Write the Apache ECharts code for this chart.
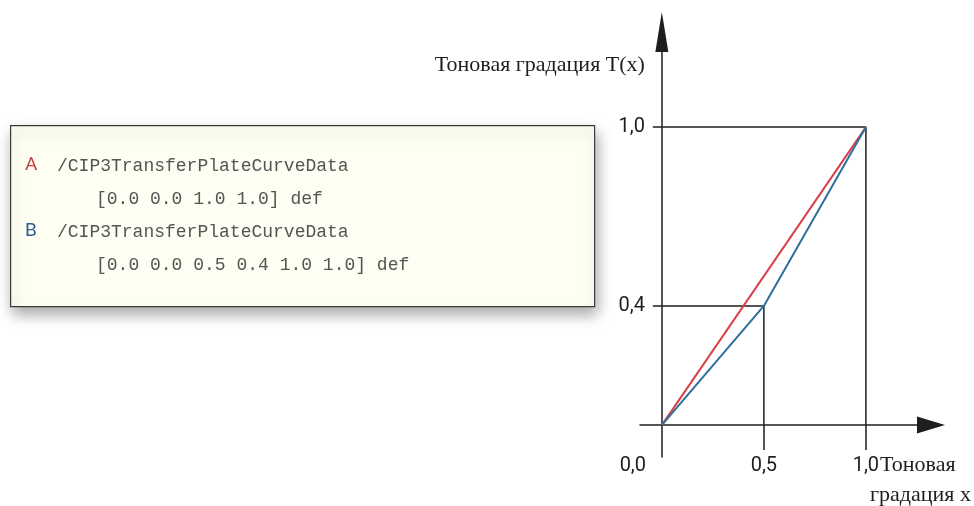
<!DOCTYPE html>
<html>
<head>
<meta charset="utf-8">
<script src="https://cdn.jsdelivr.net/npm/echarts@6/dist/echarts.min.js"></script>
<style>
  html, body { margin: 0; padding: 0; background: #fff; }
  #chart { width: 974px; height: 506px; }
</style>
</head>
<body>
<div id="chart"></div>
<script>
// tone curves (x -> T(x))
const curveA = [[0.0, 0.0], [1.0, 1.0]];
const curveB = [[0.0, 0.0], [0.5, 0.4], [1.0, 1.0]];
// guide corners drawn back to the axes
const guidePoints = [[1.0, 1.0], [0.5, 0.4]];
const xTicks = [0.0, 0.5, 1.0];
const yTicks = [0.4, 1.0];
// PostScript snippet in the box
const codeTags = ["A", "B"];
const codeLines = [
  "/CIP3TransferPlateCurveData",
  "[0.0 0.0 1.0 1.0] def",
  "/CIP3TransferPlateCurveData",
  "[0.0 0.0 0.5 0.4 1.0 1.0] def",
];

const RED = "#d8404a";
const BLUE = "#2d6f9c";
const INK = "#1e1e1e";
const narrow = "Roboto, 'Liberation Sans', sans-serif";
const serif = "'Liberation Serif', 'DejaVu Serif', serif";

const fmt = v => v.toFixed(1).replace(".", ",");

const chart = echarts.init(document.getElementById("chart"));

const guideSeries = guidePoints.map(p => ({
  type: "line",
  data: [[0, p[1]], p, [p[0], 0]],
  symbol: "none",
  silent: true,
  lineStyle: { color: INK, width: 1.5 },
  z: 1,
}));

const boxGraphics = [
  {
    type: "rect",
    left: 10, top: 125,
    shape: { width: 584, height: 181 },
    style: {
      fill: "#fefef2", stroke: "#3a3a3a", lineWidth: 1.2,
      shadowBlur: 14, shadowOffsetX: 2, shadowOffsetY: 7,
      shadowColor: "rgba(0,0,0,0.35)",
    },
  },
];
codeTags.forEach((t, i) => {
  boxGraphics.push({
    type: "text",
    left: 25, top: 156 + i * 66,
    style: { text: t, fill: i === 0 ? "#c8403f" : "#2f5f8f", font: "19px " + narrow },
  });
});
codeLines.forEach((t, i) => {
  boxGraphics.push({
    type: "text",
    left: i % 2 === 0 ? 57 : 96, top: 157 + i * 33,
    style: { text: t, fill: "#555", font: "18px 'Liberation Mono', 'DejaVu Sans Mono', monospace" },
  });
});

chart.setOption({
  animation: false,
  grid: {
    left: 640, top: 32, width: 291, height: 425,
    outerBoundsMode: "none",
  },
  xAxis: {
    type: "value",
    min: -0.107, max: 1.319,
    name: "{a|Тоновая}\n{b|градация x}",
    nameLocation: "end",
    nameGap: -61,
    nameMoveOverlap: false,
    nameTextStyle: {
      align: "left", verticalAlign: "top",
      padding: [25, 0, 0, 0],
      rich: {
        a: { fontFamily: serif, fontSize: 22, color: INK, lineHeight: 30, padding: [0, 0, 0, 10] },
        b: { fontFamily: serif, fontSize: 22, color: INK, lineHeight: 30 },
      },
    },
    axisLine: {
      onZero: true,
      lineStyle: { color: INK, width: 1.5 },
      symbol: ["none", "triangle"],
      symbolSize: [17, 28],
    },
    axisTick: { show: true, customValues: [0.5, 1.0], length: 25, lineStyle: { color: INK, width: 1.5 } },
    axisLabel: {
      customValues: xTicks,
      margin: -1,
      color: INK,
      fontFamily: narrow,
      fontSize: 20,
      formatter: v => (v === 0 ? "{z|" + fmt(v) + "}" : fmt(v)),
      rich: { z: { fontFamily: narrow, fontSize: 20, color: INK, padding: [0, 58, 0, 0] } },
    },
    splitLine: { show: false },
  },
  yAxis: {
    type: "value",
    min: -0.107, max: 1.319,
    name: "Тоновая градация T(x)",
    nameLocation: "end",
    nameGap: -33,
    nameMoveOverlap: false,
    nameTextStyle: {
      fontFamily: serif, fontSize: 22, color: INK,
      align: "right", verticalAlign: "middle",
      padding: [0, 17, 0, 0],
    },
    axisLine: {
      onZero: true,
      lineStyle: { color: INK, width: 1.5 },
      symbol: ["none", "triangle"],
      symbolSize: [13, 40],
    },
    axisTick: { show: true, customValues: yTicks, length: 9, lineStyle: { color: INK, width: 1.5 } },
    axisLabel: {
      customValues: yTicks,
      margin: -5,
      color: INK,
      fontFamily: narrow,
      fontSize: 20,
      formatter: fmt,
    },
    splitLine: { show: false },
  },
  graphic: boxGraphics,
  series: [
    ...guideSeries,
    {
      name: "A", type: "line", data: curveA, symbol: "none",
      lineStyle: { color: RED, width: 2 }, z: 3,
    },
    {
      name: "B", type: "line", data: curveB, symbol: "none",
      lineStyle: { color: BLUE, width: 2 }, z: 4,
    },
  ],
});
</script>
</body>
</html>
